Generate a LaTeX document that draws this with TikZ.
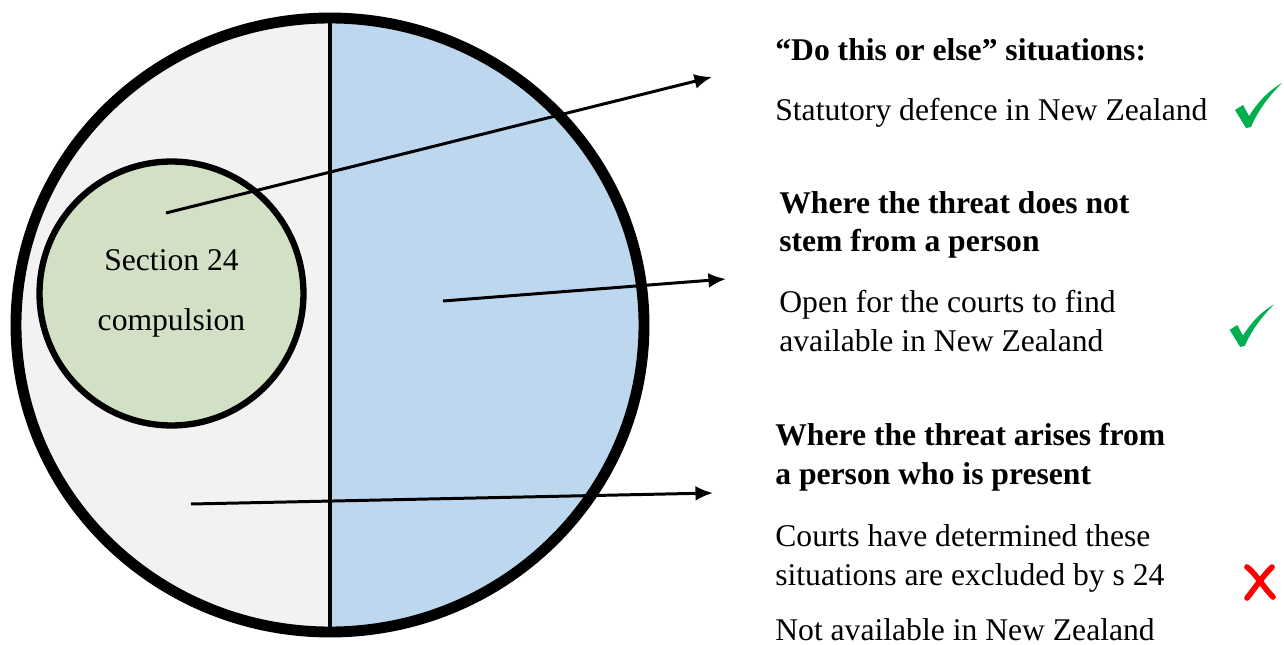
\documentclass[tikz,border=0pt]{standalone}
\usepackage{fontspec}
\setmainfont{Liberation Serif}
\usetikzlibrary{arrows.meta}
\definecolor{greyhalf}{HTML}{F2F2F2}
\definecolor{bluehalf}{HTML}{BDD7EE}
\definecolor{sage}{HTML}{D2E1C5}
\definecolor{tickgreen}{HTML}{00B050}
\definecolor{crossred}{HTML}{FF0000}
\tikzset{
  pointer/.style={
    -{Latex[length=10pt,width=8.5pt]},
    line width=1.7pt
  },
  heading/.style={
    anchor=base west,
    inner sep=0pt,
    align=left,
    font=\fontsize{18}{22.1}\selectfont\bfseries
  },
  body/.style={
    anchor=base west,
    inner sep=0pt,
    align=left,
    font=\fontsize{18}{22.1}\selectfont
  },
  tick/.pic={
    \fill[tickgreen] (-13,-16) -- (-5,-21) -- (1,-10)
      .. controls (12,-27) and (22,-36) .. (34,-43)
      .. controls (22,-31) and (10,-16) .. (3,1) -- (-2,2) -- cycle;
  },
  cross/.pic={
    \draw[crossred,line width=3.2pt,line cap=round]
      (-13,-15) .. controls (-4,-8) and (4,6) .. (13,15);
    \draw[crossred,line width=3.2pt,line cap=round]
      (12,-15) .. controls (2,-5) and (-5,6) .. (-13,16);
  }
}

\begin{document}
\begin{tikzpicture}[x=0.02cm,y=-0.02cm]
  \useasboundingbox (0,0) rectangle (1284,645);

  % the two halves of the big circle
  \begin{scope}
    \clip (330,325) ellipse [x radius=314,y radius=307];
    \fill[greyhalf] (0,0) rectangle (330,645);
    \fill[bluehalf] (330,0) rectangle (660,645);
  \end{scope}
  \draw[line width=2pt] (330,18) -- (330,632);
  \draw[line width=6.2pt] (330,325) ellipse [x radius=314,y radius=307];

  \node[circle,draw,fill=sage,line width=3.6pt,minimum size=5.28cm,
    align=center,font=\fontsize{18}{34.6}\selectfont] (s24) at (171.5,293.5)
    {Section 24\\compulsion};

  \coordinate (s24-from) at (166,213);
  \coordinate (blue-from) at (443,301);
  \coordinate (grey-from) at (191,504);
  \coordinate (else-to) at (712,77);
  \coordinate (stem-to) at (726,279);
  \coordinate (present-to) at (713,493);

  \draw[pointer] (s24-from) -- (else-to);
  \draw[pointer] (blue-from) -- (stem-to);
  \draw[pointer] (grey-from) -- (present-to);

  % base anchor of a two-line node sits on its last line
  \node[heading] (else-head) at (775,61) {``Do this or else'' situations:};
  \node[body] (else-text) at (775,121) {Statutory defence in New Zealand};
  \node[heading] (stem-head) at (779,252)
    {Where the threat does not\\stem from a person};
  \node[body] (stem-text) at (779,351)
    {Open for the courts to find\\available in New Zealand};
  \node[heading] (present-head) at (775,484)
    {Where the threat arises from\\a person who is present};
  \node[body] (present-text) at (775,585)
    {Courts have determined these\\situations are excluded by s 24};
  \node[body] (present-note) at (775,640) {Not available in New Zealand};

  \pic at (1248,126) {tick};
  \pic[scale=0.95] at (1242,345) {tick};
  \pic at (1260,582) {cross};
\end{tikzpicture}
\end{document}
